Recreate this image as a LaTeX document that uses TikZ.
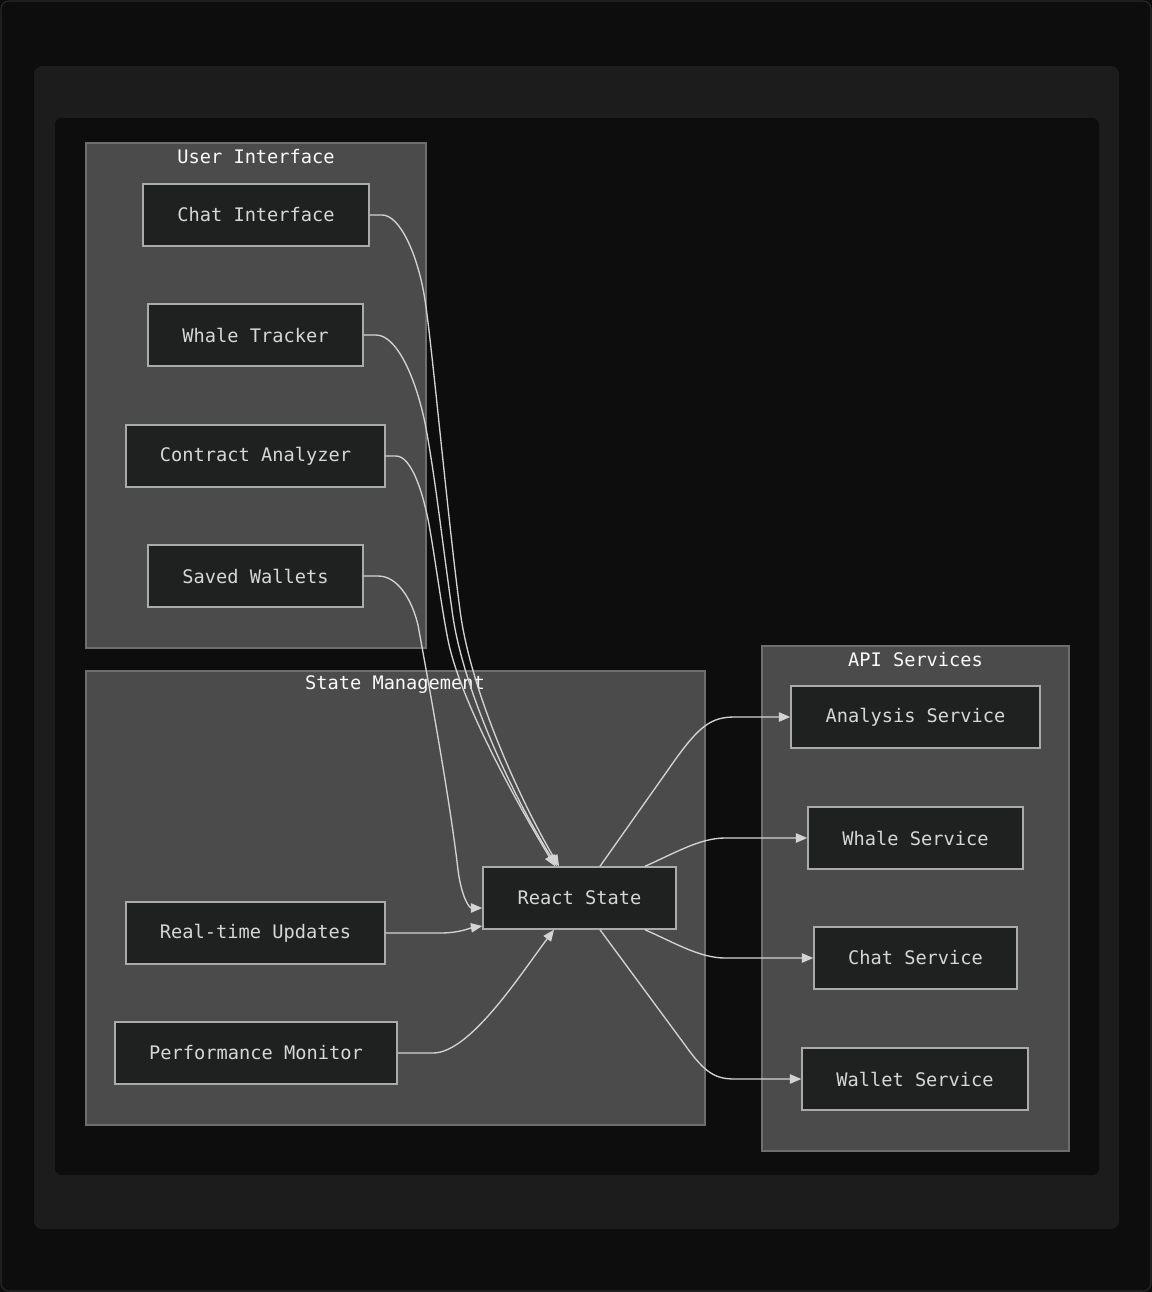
\documentclass[tikz,border=0pt]{standalone}
\usepackage{fontspec}
\setmonofont{DejaVu Sans Mono}
\usetikzlibrary{arrows.meta}
\definecolor{bg}{HTML}{0D0D0D}
\definecolor{outerline}{HTML}{2A2A2A}
\definecolor{frametwo}{HTML}{1C1C1C}
\definecolor{clusterfill}{HTML}{4A4B4A}
\definecolor{clusterline}{HTML}{6E6E6E}
\definecolor{nodefill}{HTML}{1F2120}
\definecolor{nodeline}{HTML}{ABABAB}
\definecolor{nodetext}{HTML}{D6D6D6}
\definecolor{titletext}{HTML}{FAFAFA}
\definecolor{edgecol}{HTML}{D3D3D3}
\tikzset{
  box/.style={draw=nodeline, fill=nodefill, line width=1.1pt, text=nodetext,
    font=\ttfamily\fontsize{14pt}{16pt}\selectfont, minimum height=46.5pt, inner sep=0pt},
  cluster/.style={draw=clusterline, fill=clusterfill, line width=0.8pt},
  ctitle/.style={text=titletext, font=\ttfamily\fontsize{14pt}{16pt}\selectfont, inner sep=0pt},
  lbl/.style={yshift=-0.9pt},
  edge/.style={draw=edgecol, line width=1pt, -{Triangle[length=8.5pt,width=7pt]}}
}
\begin{document}
\begin{tikzpicture}[x=0.75pt,y=-0.75pt]
\useasboundingbox (0,0) rectangle (1152,1292);
\fill[bg] (0,0) rectangle (1152,1292);
\draw[outerline, line width=0.8pt, rounded corners=6pt] (1,1) rectangle (1151,1291);
\fill[frametwo, rounded corners=6pt] (34,66) rectangle (1119,1229);
\fill[bg, rounded corners=5pt] (55,118) rectangle (1099,1175);
% clusters
\draw[cluster] (86,143) rectangle (426,648);
\draw[cluster] (86,671) rectangle (705,1125);
\draw[cluster] (762,646) rectangle (1069,1151);
\node[ctitle] (tui) at (256,157) {User Interface};
\node[ctitle] (tsm) at (395,685) {State Management};
\node[ctitle] (tapi) at (915.5,660) {API Services};
% nodes
\node[box, minimum width=169.5pt] (chat) at (256,215) {\raisebox{-0.9pt}{Chat Interface}};
\node[box, minimum width=161.25pt] (whale) at (255.5,335) {\raisebox{-0.9pt}{Whale Tracker}};
\node[box, minimum width=194.25pt] (contract) at (255.5,456) {\raisebox{-0.9pt}{Contract Analyzer}};
\node[box, minimum width=161.25pt] (saved) at (255.5,576) {\raisebox{-0.9pt}{Saved Wallets}};
\node[box, minimum width=194.25pt] (rt) at (255.5,933) {\raisebox{-0.9pt}{Real-time Updates}};
\node[box, minimum width=211.5pt] (perf) at (256,1053) {\raisebox{-0.9pt}{Performance Monitor}};
\node[box, minimum width=144.75pt] (react) at (579.5,898) {\raisebox{-0.9pt}{React State}};
\node[box, minimum width=186.75pt] (ans) at (915.5,717) {\raisebox{-0.9pt}{Analysis Service}};
\node[box, minimum width=161.25pt] (whs) at (915.5,838) {\raisebox{-0.9pt}{Whale Service}};
\node[box, minimum width=152.25pt] (chs) at (915.5,958) {\raisebox{-0.9pt}{Chat Service}};
\node[box, minimum width=169.5pt] (wls) at (915,1079) {\raisebox{-0.9pt}{Wallet Service}};
% incoming edges
\draw[edge] (chat.east) -- (382,215) .. controls (400,215) and (418,255) .. (425,300)
  .. controls (432,345) and (448,520) .. (460,610)
  .. controls (470,690) and (520,800) .. (react.north -| 559,0);
\draw[edge] (whale.east) -- (376,335) .. controls (396,335) and (415,375) .. (425,423)
  .. controls (435,475) and (442,540) .. (452,610)
  .. controls (462,690) and (515,800) .. (react.north -| 557,0);
\draw[edge] (contract.east) -- (396,456) .. controls (412,456) and (424,495) .. (430,530)
  .. controls (436,565) and (442,610) .. (448,640)
  .. controls (460,700) and (515,800) .. (react.north -| 555,0);
\draw[edge] (saved.east) -- (378,576) .. controls (398,576) and (412,600) .. (418,625)
  .. controls (428,680) and (450,800) .. (458,870)
  .. controls (462,900) and (470,908) .. (react.west |- 0,908);
\draw[edge] (rt.east) -- (440,933) .. controls (460,933) and (470,928) .. (react.west |- 0,926);
\draw[edge] (perf.east) -- (433,1053) .. controls (470,1053) and (520,975) .. (react.south -| 554,0);
% outgoing edges
\draw[edge] (react.north -| 600,0) -- (675,760) .. controls (700,725) and (712,717) .. (735,717) -- (ans.west);
\draw[edge] (react.north -| 645,0) .. controls (675,853) and (700,838) .. (725,838) -- (whs.west);
\draw[edge] (react.south -| 645,0) .. controls (675,943) and (700,958) .. (725,958) -- (chs.west);
\draw[edge] (react.south -| 600,0) -- (685,1045) .. controls (705,1073) and (715,1079) .. (735,1079) -- (wls.west);
\end{tikzpicture}
\end{document}
